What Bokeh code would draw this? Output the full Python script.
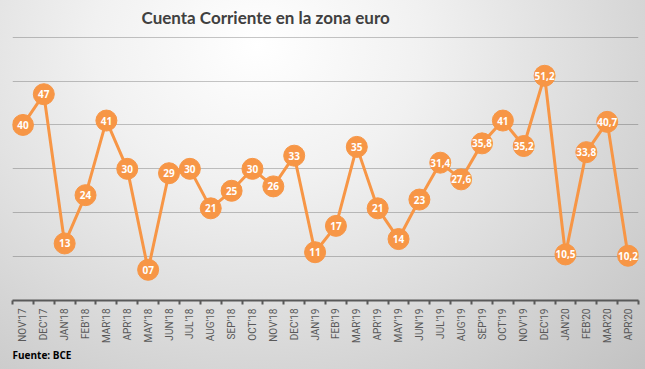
import math
from bokeh.plotting import figure
from bokeh.models import Range1d, FixedTicker, Title, ColumnDataSource
from bokeh.core.properties import value
from bokeh.embed import file_html
from bokeh.resources import INLINE

months = ["NOV'17", "DEC'17", "JAN'18", "FEB'18", "MAR'18", "APR'18", "MAY'18", "JUN'18",
          "JUL'18", "AUG'18", "SEP'18", "OCT'18", "NOV'18", "DEC'18", "JAN'19", "FEB'19",
          "MAR'19", "APR'19", "MAY'19", "JUN'19", "JUL'19", "AUG'19", "SEP'19", "OCT'19",
          "NOV'19", "DEC'19", "JAN'20", "FEB'20", "MAR'20", "APR'20"]
values = [40, 47, 13, 24, 41, 30, 7, 29, 30, 21, 25, 30, 26, 33, 11, 17,
          35, 21, 14, 23, 31.4, 27.6, 35.8, 41, 35.2, 51.2, 10.5, 33.8, 40.7, 10.2]
value_labels = ["40", "47", "13", "24", "41", "30", "07", "29", "30", "21", "25", "30",
                "26", "33", "11", "17", "35", "21", "14", "23", "31,4", "27,6", "35,8",
                "41", "35,2", "51,2", "10,5", "33,8", "40,7", "10,2"]
grid_values = [10, 20, 30, 40, 50, 60]

ORANGE = "#F79646"
xs = list(range(len(months)))
src = ColumnDataSource(dict(x=xs, y=values, lab=value_labels))

p = figure(width=645, height=369, output_backend="svg", toolbar_location=None,
           x_range=Range1d(-0.5, len(months) - 0.5), y_range=Range1d(0, 60.15),
           min_border_left=12, min_border_right=7, min_border_top=36, min_border_bottom=69)

p.styles = {"background": "radial-gradient(ellipse farthest-corner at 40% 12%, #ffffff 0%, #f1f1f1 30%, #d6d6d6 70%, #c2c2c2 100%)"}
p.background_fill_alpha = 0
p.border_fill_alpha = 0
p.outline_line_color = None

p.title.text = "Cuenta Corriente en la zona euro"
p.title.align = "left"
p.title.vertical_align = "top"
p.title.offset = 129
p.title.text_font = "Lato"
p.title.text_font_style = "bold"
p.title.text_font_size = "17px"
p.title.text_color = "#404040"
p.title.standoff = 13

p.yaxis.visible = False
p.xgrid.visible = False
p.ygrid.ticker = FixedTicker(ticks=grid_values)
p.ygrid.grid_line_color = "black"
p.ygrid.grid_line_alpha = 0.22
p.ygrid.grid_line_width = 1

ax = p.xaxis[0]
ax.ticker = FixedTicker(ticks=xs, minor_ticks=[i - 0.5 for i in range(len(months) + 1)])
ax.major_label_overrides = {i: m for i, m in enumerate(months)}
ax.major_label_orientation = math.pi / 2
ax.major_tick_out = 0
ax.major_tick_in = 0
ax.minor_tick_out = 4
ax.minor_tick_in = 0
ax.minor_tick_line_color = "#595959"
ax.minor_tick_line_width = 2
ax.axis_line_color = "#595959"
ax.axis_line_width = 2
ax.major_label_text_font = "Roboto"
ax.major_label_text_font_size = "10px"
ax.major_label_text_color = "#595959"
ax.major_label_standoff = 4

p.line("x", "y", source=src, line_color=ORANGE, line_width=3)
p.scatter("x", "y", source=src, size=21, fill_color=ORANGE, line_color=ORANGE)
p.text("x", "y", text="lab", source=src, text_align="center", text_baseline="middle",
       text_color="white", text_font=value("Open Sans"), text_font_style="bold",
       text_font_size="10px")

source_note = Title(text="Fuente: BCE", align="left", text_font="Open Sans",
                    text_font_style="bold", text_font_size="10px", text_color="black",
                    standoff=0)
p.add_layout(source_note, "below")

open("out.html", "w").write(file_html(p, INLINE))
